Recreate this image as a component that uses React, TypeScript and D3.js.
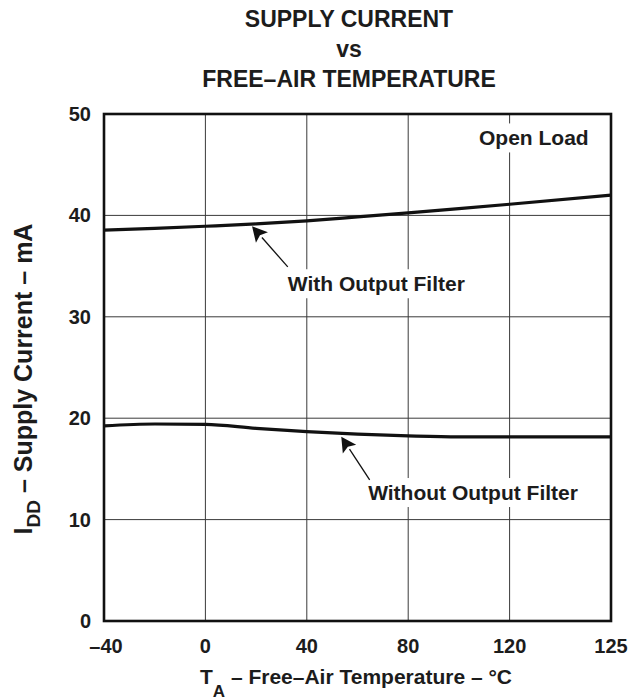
import * as d3 from 'd3';
import React, {useEffect, useRef} from 'react';

const temps = [-40, -20, 0, 20, 40, 60, 80, 100, 120, 125];
// supply current, mA
const withFilter = [38.55, 38.72, 38.93, 39.16, 39.46, 39.85, 40.25, 40.67, 41.1, 42.0];
const withoutFilter = [19.24, 19.43, 19.4, 19.0, 18.68, 18.42, 18.25, 18.15, 18.15, 18.15];

const xTicks = [-40, 0, 40, 80, 120, 125];
const yTicks = [0, 10, 20, 30, 40, 50];
const titleLines = ['SUPPLY CURRENT', 'vs', 'FREE\u2013AIR TEMPERATURE'];

// annotations: arrow tip / tail and label anchor, in data units
const annotations = [
    {text: 'With Output Filter', tip: [18.4, 38.93], tail: [32.5, 34.92], label: [32.5, 32.52], anchor: 'start'},
    {text: 'Without Output Filter', tip: [53.6, 18.18], tail: [64.8, 13.91], label: [64.2, 11.93], anchor: 'start'},
    {text: 'Open Load', tip: null, tail: null, label: [123.9, 46.9], anchor: 'end'},
];

const FONT = '"Liberation Sans", Arial, Helvetica, sans-serif';
const INK = '#1c1c1c';

export default function App() {
    const ref = useRef<SVGSVGElement | null>(null);

    useEffect(() => {
        const svg = d3.select(ref.current);
        svg.selectAll('*').remove();

        const left = 104, right = 611, top = 114, bottom = 621;

        // tick positions are evenly spaced even though 120 -> 125 is a short step
        const x = d3.scaleLinear()
            .domain(xTicks)
            .range(xTicks.map((_, i) => left + i * (right - left) / (xTicks.length - 1)));
        const y = d3.scaleLinear().domain([0, 50]).range([bottom, top]);

        // title
        svg.append('g')
            .selectAll('text')
            .data(titleLines)
            .enter()
            .append('text')
            .attr('x', 349)
            .attr('y', (d, i) => 27 + i * 30)
            .attr('text-anchor', 'middle')
            .attr('font-family', FONT)
            .attr('font-weight', 'bold')
            .attr('font-size', 23)
            .attr('fill', INK)
            .text((d) => d);

        // grid
        const grid = svg.append('g').attr('stroke', '#3a3a3a').attr('stroke-width', 1);
        grid.selectAll('line.v')
            .data(xTicks.slice(1, -1))
            .enter()
            .append('line')
            .attr('x1', (d) => x(d)).attr('x2', (d) => x(d))
            .attr('y1', top).attr('y2', bottom);
        grid.selectAll('line.h')
            .data(yTicks.slice(1, -1))
            .enter()
            .append('line')
            .attr('x1', left).attr('x2', right)
            .attr('y1', (d) => y(d)).attr('y2', (d) => y(d));

        // curves
        const line = d3.line<number>()
            .x((d, i) => x(temps[i]))
            .y((d) => y(d))
            .curve(d3.curveMonotoneX);
        [withFilter, withoutFilter].forEach((s) => {
            svg.append('path')
                .attr('d', line(s))
                .attr('fill', 'none')
                .attr('stroke', '#111')
                .attr('stroke-width', 3.2);
        });

        // labels with white boxes that break the grid
        const labels = svg.append('g');
        annotations.forEach((a) => {
            const t = labels.append('text')
                .attr('x', x(a.label[0]))
                .attr('y', y(a.label[1]))
                .attr('text-anchor', a.anchor)
                .attr('font-family', FONT)
                .attr('font-weight', 'bold')
                .attr('font-size', 21)
                .attr('fill', INK)
                .text(a.text);
            const bb = (t.node() as SVGTextElement).getBBox();
            labels.insert('rect', 'text')
                .attr('x', bb.x - 3)
                .attr('y', bb.y - 3)
                .attr('width', bb.width + 6)
                .attr('height', bb.height + 6)
                .attr('fill', 'white');
        });

        // frame
        svg.append('rect')
            .attr('x', left).attr('y', top)
            .attr('width', right - left).attr('height', bottom - top)
            .attr('fill', 'none')
            .attr('stroke', '#111')
            .attr('stroke-width', 2.6);

        // arrows
        annotations.filter((a) => a.tip).forEach((a) => {
            const tx = x(a.tip![0]), ty = y(a.tip![1]);
            const sx = x(a.tail![0]), sy = y(a.tail![1]);
            const ang = Math.atan2(ty - sy, tx - sx);
            const len = 15, half = 8;
            const bx = tx - len * Math.cos(ang), by = ty - len * Math.sin(ang);
            svg.append('line')
                .attr('x1', sx).attr('y1', sy)
                .attr('x2', bx).attr('y2', by)
                .attr('stroke', '#111')
                .attr('stroke-width', 1.3);
            const px = -Math.sin(ang), py = Math.cos(ang);
            svg.append('path')
                .attr('d', `M${tx},${ty}L${bx + half * px},${by + half * py}L${bx + 3 * Math.cos(ang)},${by + 3 * Math.sin(ang)}L${bx - half * px},${by - half * py}Z`)
                .attr('fill', '#111');
        });

        // y tick labels
        svg.append('g')
            .selectAll('text')
            .data(yTicks)
            .enter()
            .append('text')
            .attr('x', 91)
            .attr('y', (d) => y(d) + 7)
            .attr('text-anchor', 'end')
            .attr('font-family', FONT)
            .attr('font-weight', 'bold')
            .attr('font-size', 20)
            .attr('fill', INK)
            .text((d) => d);

        // x tick labels
        svg.append('g')
            .selectAll('text')
            .data(xTicks)
            .enter()
            .append('text')
            .attr('x', (d) => x(d) + (d === xTicks[0] ? 2 : 0))
            .attr('y', 653)
            .attr('text-anchor', 'middle')
            .attr('font-family', FONT)
            .attr('font-weight', 'bold')
            .attr('font-size', 20)
            .attr('fill', INK)
            .text((d) => (d < 0 ? `\u2013${-d}` : `${d}`));

        // x title
        const xt = svg.append('text')
            .attr('x', 356)
            .attr('y', 684)
            .attr('text-anchor', 'middle')
            .attr('font-family', FONT)
            .attr('font-weight', 'bold')
            .attr('font-size', 21)
            .attr('fill', INK);
        xt.append('tspan').text('T');
        xt.append('tspan').attr('font-size', 17).attr('dy', 13).text('A');
        xt.append('tspan').attr('dy', -13).text(' \u2013 Free\u2013Air Temperature \u2013 \u00b0C');

        // y title
        const yt = svg.append('text')
            .attr('transform', 'translate(32,379) rotate(-90)')
            .attr('text-anchor', 'middle')
            .attr('font-family', FONT)
            .attr('font-weight', 'bold')
            .attr('font-size', 25)
            .attr('fill', INK);
        yt.append('tspan').text('I');
        yt.append('tspan').attr('font-size', 19).attr('dy', 8).text('DD');
        yt.append('tspan').attr('dy', -8).text(' \u2013 Supply Current \u2013 mA');
    }, []);

    return (
        <svg
            ref={ref}
            width={631}
            height={700}
            style={{position: 'absolute', left: 0, top: 0, background: 'white'}}
        />
    );
}
